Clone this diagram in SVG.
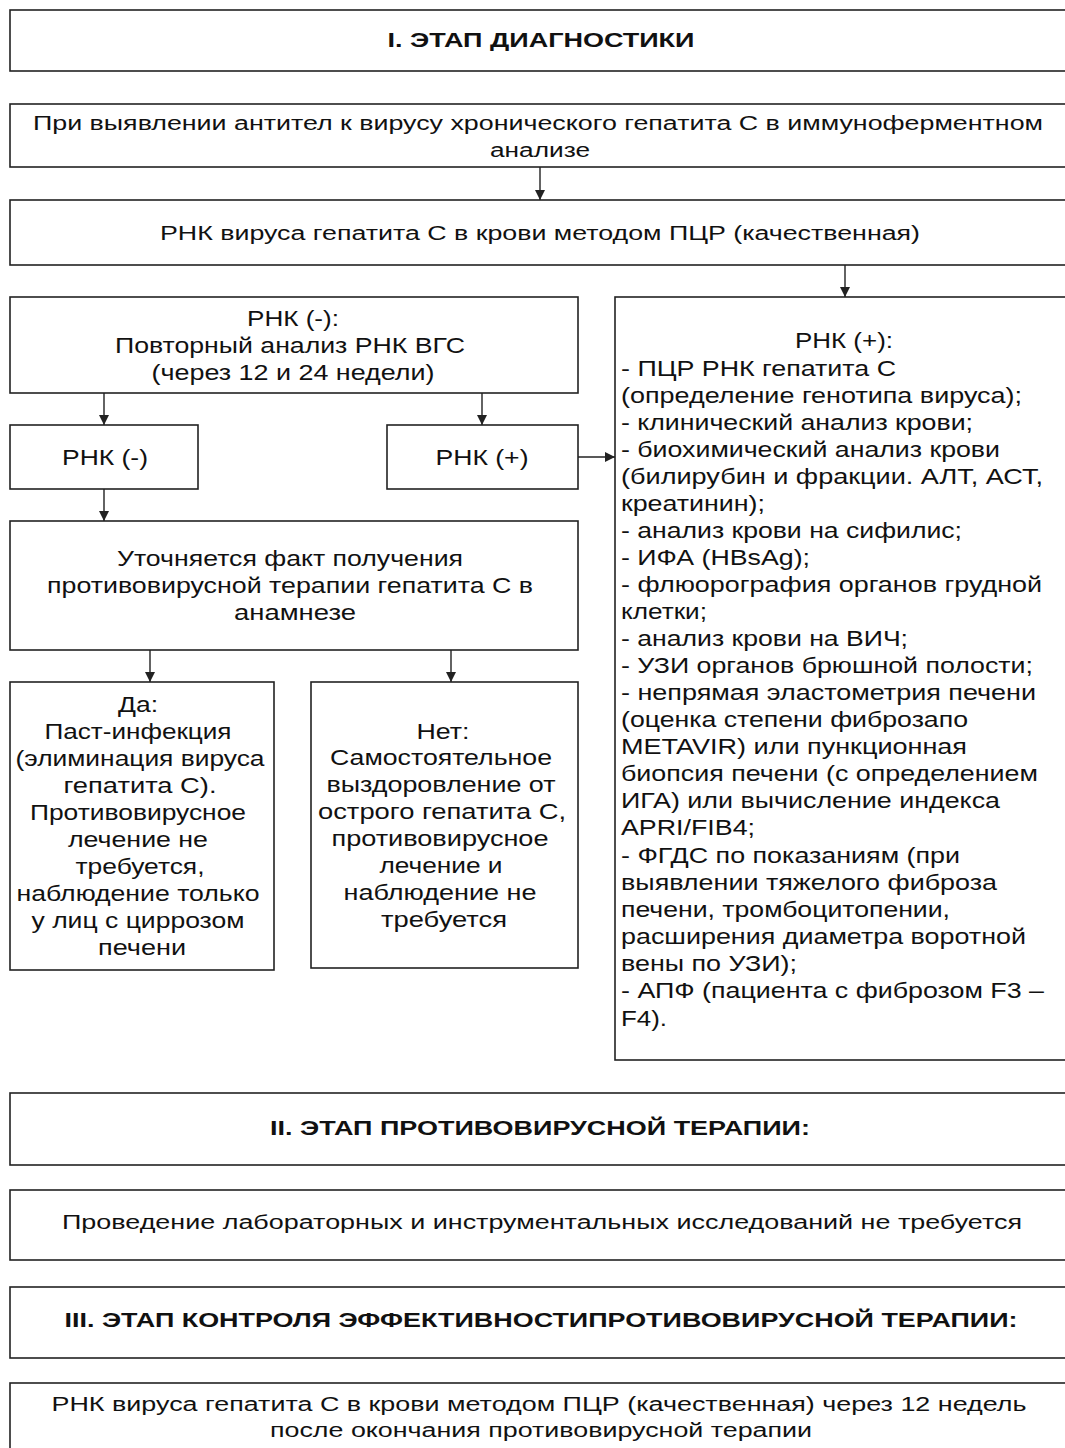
<svg xmlns="http://www.w3.org/2000/svg" width="1065" height="1448" viewBox="0 0 1065 1448">
<style>
.b{fill:#fff;stroke:#222;stroke-width:1.6}
.n{font-family:"Liberation Sans",Arial,sans-serif;font-size:20px;fill:#111}
.nb{font-family:"Liberation Sans",Arial,sans-serif;font-size:20px;font-weight:bold;fill:#111}
.t{font-family:"Liberation Sans",Arial,sans-serif;font-size:22px;fill:#111}
.c{text-anchor:middle}
.e{stroke:#222;stroke-width:1.4;fill:none;marker-end:url(#ah)}
</style>
<defs>
<marker id="ah" viewBox="0 0 10 10" refX="10" refY="5" markerWidth="10" markerHeight="10" markerUnits="userSpaceOnUse" orient="auto">
<path d="M0,0 L10,5 L0,10 z" fill="#222"/>
</marker>
</defs>
<rect width="1065" height="1448" fill="#fff"/>

<g id="stage1">
<rect class="b" x="10" y="10" width="1070" height="61"/>
<text class="nb c" x="541" y="47" textLength="307" lengthAdjust="spacingAndGlyphs">I. ЭТАП ДИАГНОСТИКИ</text>
</g>

<g id="antibodies">
<rect class="b" x="10" y="104" width="1070" height="63"/>
<text class="n c" x="538" y="130" textLength="1010" lengthAdjust="spacingAndGlyphs">При выявлении антител к вирусу хронического гепатита С в иммуноферментном</text>
<text class="n c" x="540" y="157" textLength="100" lengthAdjust="spacingAndGlyphs">анализе</text>
</g>

<g id="pcr">
<rect class="b" x="10" y="200" width="1070" height="65"/>
<text class="n c" x="540" y="240" textLength="760" lengthAdjust="spacingAndGlyphs">РНК вируса гепатита С в крови методом ПЦР (качественная)</text>
</g>

<g id="rna-neg">
<rect class="b" x="10" y="297" width="568" height="96"/>
<text class="t c" x="293" y="326" textLength="92" lengthAdjust="spacingAndGlyphs">РНК (-):</text>
<text class="t c" x="290" y="353" textLength="350" lengthAdjust="spacingAndGlyphs">Повторный анализ РНК ВГС</text>
<text class="t c" x="293" y="380" textLength="283" lengthAdjust="spacingAndGlyphs">(через 12 и 24 недели)</text>
</g>

<g id="rna-neg2">
<rect class="b" x="10" y="425" width="188" height="64"/>
<text class="t c" x="105" y="465" textLength="86" lengthAdjust="spacingAndGlyphs">РНК (-)</text>
</g>

<g id="rna-pos2">
<rect class="b" x="387" y="425" width="191" height="64"/>
<text class="t c" x="482" y="465" textLength="93" lengthAdjust="spacingAndGlyphs">РНК (+)</text>
</g>

<g id="clarify">
<rect class="b" x="10" y="521" width="568" height="129"/>
<text class="t c" x="290" y="566" textLength="346" lengthAdjust="spacingAndGlyphs">Уточняется факт получения</text>
<text class="t c" x="290" y="593" textLength="486" lengthAdjust="spacingAndGlyphs">противовирусной терапии гепатита С в</text>
<text class="t c" x="295" y="620" textLength="122" lengthAdjust="spacingAndGlyphs">анамнезе</text>
</g>

<g id="yes">
<rect class="b" x="10" y="682" width="264" height="288"/>
<text class="t c" x="138" y="712" textLength="40" lengthAdjust="spacingAndGlyphs">Да:</text>
<text class="t c" x="138" y="739" textLength="187" lengthAdjust="spacingAndGlyphs">Паст-инфекция</text>
<text class="t c" x="140" y="766" textLength="249" lengthAdjust="spacingAndGlyphs">(элиминация вируса</text>
<text class="t c" x="140" y="793" textLength="153" lengthAdjust="spacingAndGlyphs">гепатита С).</text>
<text class="t c" x="138" y="820" textLength="216" lengthAdjust="spacingAndGlyphs">Противовирусное</text>
<text class="t c" x="138" y="847" textLength="140" lengthAdjust="spacingAndGlyphs">лечение не</text>
<text class="t c" x="140" y="874" textLength="129" lengthAdjust="spacingAndGlyphs">требуется,</text>
<text class="t c" x="138" y="901" textLength="243" lengthAdjust="spacingAndGlyphs">наблюдение только</text>
<text class="t c" x="138" y="928" textLength="213" lengthAdjust="spacingAndGlyphs">у лиц с циррозом</text>
<text class="t c" x="142" y="955" textLength="88" lengthAdjust="spacingAndGlyphs">печени</text>
</g>

<g id="no">
<rect class="b" x="311" y="682" width="267" height="286"/>
<text class="t c" x="443" y="739" textLength="53" lengthAdjust="spacingAndGlyphs">Нет:</text>
<text class="t c" x="441" y="765" textLength="222" lengthAdjust="spacingAndGlyphs">Самостоятельное</text>
<text class="t c" x="441" y="792" textLength="229" lengthAdjust="spacingAndGlyphs">выздоровление от</text>
<text class="t c" x="442" y="819" textLength="248" lengthAdjust="spacingAndGlyphs">острого гепатита С,</text>
<text class="t c" x="440" y="846" textLength="217" lengthAdjust="spacingAndGlyphs">противовирусное</text>
<text class="t c" x="441" y="873" textLength="123" lengthAdjust="spacingAndGlyphs">лечение и</text>
<text class="t c" x="440" y="900" textLength="193" lengthAdjust="spacingAndGlyphs">наблюдение не</text>
<text class="t c" x="444" y="927" textLength="126" lengthAdjust="spacingAndGlyphs">требуется</text>
</g>

<g id="rna-pos">
<rect class="b" x="615" y="297" width="465" height="763"/>
<text class="t c" x="844" y="348" textLength="98" lengthAdjust="spacingAndGlyphs">РНК (+):</text>
<text class="t" x="621" y="376" textLength="275" lengthAdjust="spacingAndGlyphs">- ПЦР РНК гепатита С</text>
<text class="t" x="621" y="403" textLength="401" lengthAdjust="spacingAndGlyphs">(определение генотипа вируса);</text>
<text class="t" x="621" y="430" textLength="352" lengthAdjust="spacingAndGlyphs">- клинический анализ крови;</text>
<text class="t" x="621" y="457" textLength="379" lengthAdjust="spacingAndGlyphs">- биохимический анализ крови</text>
<text class="t" x="621" y="484" textLength="422" lengthAdjust="spacingAndGlyphs">(билирубин и фракции. АЛТ, АСТ,</text>
<text class="t" x="621" y="511" textLength="144" lengthAdjust="spacingAndGlyphs">креатинин);</text>
<text class="t" x="621" y="538" textLength="341" lengthAdjust="spacingAndGlyphs">- анализ крови на сифилис;</text>
<text class="t" x="621" y="565" textLength="189" lengthAdjust="spacingAndGlyphs">- ИФА (HBsAg);</text>
<text class="t" x="621" y="592" textLength="421" lengthAdjust="spacingAndGlyphs">- флюорография органов грудной</text>
<text class="t" x="621" y="619" textLength="86" lengthAdjust="spacingAndGlyphs">клетки;</text>
<text class="t" x="621" y="646" textLength="287" lengthAdjust="spacingAndGlyphs">- анализ крови на ВИЧ;</text>
<text class="t" x="621" y="673" textLength="412" lengthAdjust="spacingAndGlyphs">- УЗИ органов брюшной полости;</text>
<text class="t" x="621" y="700" textLength="415" lengthAdjust="spacingAndGlyphs">- непрямая эластометрия печени</text>
<text class="t" x="621" y="727" textLength="347" lengthAdjust="spacingAndGlyphs">(оценка степени фиброзапо</text>
<text class="t" x="621" y="754" textLength="346" lengthAdjust="spacingAndGlyphs">METAVIR) или пункционная</text>
<text class="t" x="621" y="781" textLength="417" lengthAdjust="spacingAndGlyphs">биопсия печени (с определением</text>
<text class="t" x="621" y="808" textLength="379" lengthAdjust="spacingAndGlyphs">ИГА) или вычисление индекса</text>
<text class="t" x="621" y="835" textLength="134" lengthAdjust="spacingAndGlyphs">APRI/FIB4;</text>
<text class="t" x="621" y="863" textLength="339" lengthAdjust="spacingAndGlyphs">- ФГДС по показаниям (при</text>
<text class="t" x="621" y="890" textLength="376" lengthAdjust="spacingAndGlyphs">выявлении тяжелого фиброза</text>
<text class="t" x="621" y="917" textLength="329" lengthAdjust="spacingAndGlyphs">печени, тромбоцитопении,</text>
<text class="t" x="621" y="944" textLength="405" lengthAdjust="spacingAndGlyphs">расширения диаметра воротной</text>
<text class="t" x="621" y="971" textLength="176" lengthAdjust="spacingAndGlyphs">вены по УЗИ);</text>
<text class="t" x="621" y="998" textLength="423" lengthAdjust="spacingAndGlyphs">- АПФ (пациента с фиброзом F3 –</text>
<text class="t" x="621" y="1026" textLength="46" lengthAdjust="spacingAndGlyphs">F4).</text>
</g>

<g id="stage2">
<rect class="b" x="10" y="1093" width="1070" height="72"/>
<text class="nb c" x="540" y="1135" textLength="540" lengthAdjust="spacingAndGlyphs">II. ЭТАП ПРОТИВОВИРУСНОЙ ТЕРАПИИ:</text>
</g>

<g id="no-tests">
<rect class="b" x="10" y="1190" width="1070" height="70"/>
<text class="n c" x="542" y="1229" textLength="960" lengthAdjust="spacingAndGlyphs">Проведение лабораторных и инструментальных исследований не требуется</text>
</g>

<g id="stage3">
<rect class="b" x="10" y="1287" width="1070" height="71"/>
<text class="nb c" x="541" y="1327" textLength="953" lengthAdjust="spacingAndGlyphs">III. ЭТАП КОНТРОЛЯ ЭФФЕКТИВНОСТИПРОТИВОВИРУСНОЙ ТЕРАПИИ:</text>
</g>

<g id="control-pcr">
<rect class="b" x="10" y="1383" width="1070" height="80"/>
<text class="n c" x="539" y="1411" textLength="975" lengthAdjust="spacingAndGlyphs">РНК вируса гепатита С в крови методом ПЦР (качественная) через 12 недель</text>
<text class="n c" x="541" y="1437" textLength="542" lengthAdjust="spacingAndGlyphs">после окончания противовирусной терапии</text>
</g>

<g id="connectors">
<path class="e" d="M540,167 V200"/>
<path class="e" d="M845,265 V297"/>
<path class="e" d="M104,393 V425"/>
<path class="e" d="M482,393 V425"/>
<path class="e" d="M578,457 H615"/>
<path class="e" d="M104,489 V521"/>
<path class="e" d="M150,650 V682"/>
<path class="e" d="M451,650 V682"/>
</g>
</svg>
